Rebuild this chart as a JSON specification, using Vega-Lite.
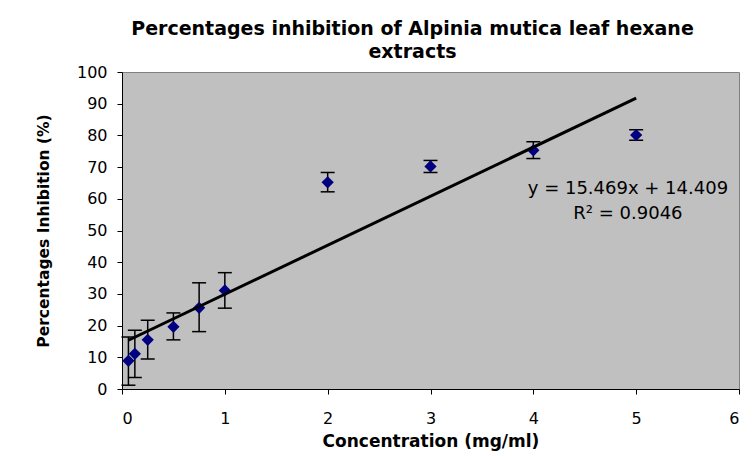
{
  "$schema": "https://vega.github.io/schema/vega-lite/v6.json",
  "autosize": "none",
  "width": 617,
  "height": 317,
  "padding": {"left": 122, "top": 72, "right": 16, "bottom": 67},
  "background": "white",
  "title": {
    "text": ["Percentages inhibition of Alpinia mutica leaf hexane", "extracts"],
    "font": "DejaVu Sans",
    "fontSize": 19,
    "fontWeight": "bold",
    "color": "black",
    "anchor": "middle",
    "dx": -18,
    "offset": 2,
    "lineHeight": 23
  },
  "config": {
    "view": {"fill": "#C0C0C0", "stroke": "#808080", "strokeWidth": 1},
    "axis": {
      "grid": false,
      "domainColor": "black",
      "domainWidth": 1,
      "tickColor": "black",
      "tickSize": 5,
      "labelFont": "DejaVu Sans",
      "labelFontSize": 16,
      "labelColor": "black",
      "labelOverlap": false,
      "titleFont": "DejaVu Sans",
      "titleFontWeight": "bold",
      "titleColor": "black"
    },
    "axisX": {"tickCount": 7, "labelPadding": 16, "titleFontSize": 17, "titlePadding": 7},
    "axisY": {"tickCount": 11, "labelPadding": 10, "titleFontSize": 15.5, "titlePadding": 25}
  },
  "datasets": {
    "points": [
      {"conc": 0.0625, "inhibition": 8.9, "lo": 1.2, "hi": 16.4},
      {"conc": 0.125, "inhibition": 11.1, "lo": 3.6, "hi": 18.5},
      {"conc": 0.25, "inhibition": 15.5, "lo": 9.5, "hi": 21.7},
      {"conc": 0.5, "inhibition": 19.6, "lo": 15.5, "hi": 24.0},
      {"conc": 0.75, "inhibition": 25.6, "lo": 18.1, "hi": 33.5},
      {"conc": 1, "inhibition": 31.1, "lo": 25.5, "hi": 36.7},
      {"conc": 2, "inhibition": 65.2, "lo": 62.2, "hi": 68.3},
      {"conc": 3, "inhibition": 70.2, "lo": 68.3, "hi": 72.1},
      {"conc": 4, "inhibition": 75.3, "lo": 72.7, "hi": 78.0},
      {"conc": 5, "inhibition": 80.1, "lo": 78.5, "hi": 81.8}
    ],
    "trend": [
      {"conc": 0.0625, "inhibition": 15.376},
      {"conc": 5, "inhibition": 91.754}
    ]
  },
  "layer": [
    {
      "data": {"name": "points"},
      "mark": {"type": "rule", "color": "black", "strokeWidth": 1.5},
      "encoding": {
        "x": {"field": "conc", "type": "quantitative",
              "scale": {"domain": [0, 6], "nice": false},
              "axis": {"format": "d", "title": "Concentration (mg/ml)"}},
        "y": {"field": "lo", "type": "quantitative",
              "scale": {"domain": [0, 100], "nice": false},
              "axis": {"format": "d", "title": "Percentages Inhibition (%)"}},
        "y2": {"field": "hi"}
      }
    },
    {
      "data": {"name": "points"},
      "mark": {"type": "tick", "orient": "horizontal", "color": "black", "size": 14, "thickness": 1.5, "opacity": 1},
      "encoding": {
        "x": {"field": "conc", "type": "quantitative"},
        "y": {"field": "lo", "type": "quantitative"}
      }
    },
    {
      "data": {"name": "points"},
      "mark": {"type": "tick", "orient": "horizontal", "color": "black", "size": 14, "thickness": 1.5, "opacity": 1},
      "encoding": {
        "x": {"field": "conc", "type": "quantitative"},
        "y": {"field": "hi", "type": "quantitative"}
      }
    },
    {
      "data": {"name": "points"},
      "mark": {"type": "point", "shape": "diamond", "filled": true, "color": "#000080", "size": 150, "opacity": 1},
      "encoding": {
        "x": {"field": "conc", "type": "quantitative"},
        "y": {"field": "inhibition", "type": "quantitative"}
      }
    },
    {
      "data": {"name": "trend"},
      "mark": {"type": "line", "color": "black", "strokeWidth": 3},
      "encoding": {
        "x": {"field": "conc", "type": "quantitative"},
        "y": {"field": "inhibition", "type": "quantitative"}
      }
    },
    {
      "data": {"values": [{}]},
      "mark": {"type": "text", "font": "DejaVu Sans", "fontSize": 18, "color": "black", "align": "center", "baseline": "middle"},
      "encoding": {
        "x": {"datum": 4.92, "type": "quantitative"},
        "y": {"datum": 63, "type": "quantitative"},
        "text": {"value": "y = 15.469x + 14.409"}
      }
    },
    {
      "data": {"values": [{}]},
      "mark": {"type": "text", "font": "DejaVu Sans", "fontSize": 18, "color": "black", "align": "center", "baseline": "middle"},
      "encoding": {
        "x": {"datum": 4.92, "type": "quantitative"},
        "y": {"datum": 55.1, "type": "quantitative"},
        "text": {"value": "R² = 0.9046"}
      }
    }
  ]
}
